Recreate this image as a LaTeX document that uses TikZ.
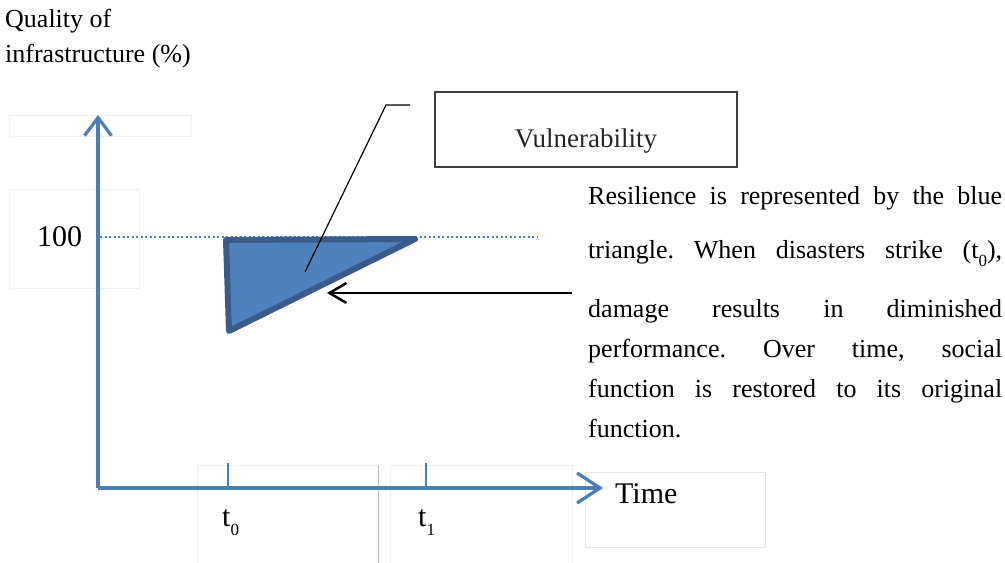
\documentclass[tikz,border=0pt]{standalone}
\usepackage{fontspec}
\setmainfont{Liberation Serif}
\usetikzlibrary{arrows.meta}
\frenchspacing

\definecolor{axisblue}{HTML}{4A7EBB}
\definecolor{trifill}{HTML}{4F81BD}
\definecolor{triedge}{HTML}{385D8A}
\definecolor{boxgray}{HTML}{404040}

\newcommand{\bodyfont}{\fontsize{26bp}{30bp}\selectfont}
\newcommand{\bigfont}{\fontsize{30bp}{34bp}\selectfont}
\newcommand{\subzero}[1]{\raisebox{-0.3em}{\fontsize{17bp}{17bp}\selectfont #1}}

\tikzset{
  axisline/.style={draw=axisblue, line width=3.2bp},
  tickline/.style={draw=axisblue, line width=2.8bp},
  guide/.style={draw=axisblue, line width=2bp, dash pattern=on 2bp off 2.5bp},
  ghost/.style={draw=black!6, line width=0.8bp},
  txt/.style={inner sep=0pt, anchor=base west, font=\bodyfont},
  bigtxt/.style={inner sep=0pt, anchor=base west, font=\bigfont},
  para/.style={inner sep=0pt, anchor=base west, font=\bodyfont},
}

\begin{document}
\begin{tikzpicture}[x=1bp, y=-1bp]
\useasboundingbox (0,0) rectangle (1005,563);

% faint frames left around the pasted pieces
\draw[ghost] (9,115) rectangle (191,136);
\draw[ghost] (9,189) rectangle (139,288);
\draw[ghost] (197,465) rectangle (378,563);
\draw[ghost] (390,465) rectangle (572,563);
\draw[ghost, draw=black!10] (585,472) rectangle (765,547);
\draw[draw=black!28, line width=0.8bp] (378,465) -- (378,563);

% axis title
\node[txt] (qual) at (5,28) {Quality of};
\node[txt] (infra) at (5,63) {infrastructure (\%)};

% axes
\coordinate (O) at (98,488);
\coordinate (ytip) at (98,115);
\coordinate (xtip) at (603,488);
\draw[axisline, -{Straight Barb[length=18bp, width=27bp]}] (O) -- (ytip);
\draw[axisline, -{Straight Barb[length=23bp, width=30bp]}] (O) -- (xtip);

% 100 % level
\node[bigtxt] (hundred) at (37,247) {100};
\coordinate (lvlL) at (100,237);
\coordinate (lvlR) at (538,237);
\draw[guide] (lvlL) -- (lvlR);

% ticks and time labels
\coordinate (t0top) at (228,463);
\coordinate (t0bot) at (228,488);
\coordinate (t1top) at (426,463);
\coordinate (t1bot) at (426,488);
\draw[tickline] (t0top) -- (t0bot);
\draw[tickline] (t1top) -- (t1bot);
\node[bigtxt] (t0) at (222,526) {t\subzero{0}};
\node[bigtxt] (t1) at (418,526) {t\subzero{1}};
\node[bigtxt] (time) at (615,503) {Time};

% resilience triangle
\coordinate (A) at (226,240);
\coordinate (B) at (415,239);
\coordinate (C) at (229,331);
\draw[fill=trifill, draw=triedge, line width=6bp, line join=round] (A) -- (B) -- (C) -- cycle;

% vulnerability callout
\node[draw=boxgray, line width=1.5bp, minimum width=302bp, minimum height=75bp, inner sep=0pt] (vul) at (586,129.5) {};
\node[inner sep=0pt, anchor=base, font=\fontsize{27bp}{30bp}\selectfont, text=black!85] (vultext) at (586,148) {Vulnerability};
\coordinate (lead) at (305,272);
\coordinate (knee) at (386,105);
\coordinate (leadend) at (410,105);
\draw[black, line width=1.2bp] (lead) -- (knee) -- (leadend);

% pointer to the triangle
\coordinate (ptrstart) at (572,293);
\coordinate (ptrtip) at (327,293);
\draw[black, line width=2.5bp, -{Straight Barb[length=17bp, width=20bp]}] (ptrstart) -- (ptrtip);

% explanation
\node[para] (p1) at (588,205) {\makebox[414bp][s]{Resilience is represented by the blue}};
\node[para] (p2) at (588,259) {\makebox[414bp][s]{triangle. When disasters strike (t\subzero{0}),}};
\node[para] (p3) at (588,317) {\makebox[414bp][s]{damage results in diminished}};
\node[para] (p4) at (588,357) {\makebox[414bp][s]{performance. Over time, social}};
\node[para] (p5) at (588,397) {\makebox[414bp][s]{function is restored to its original}};
\node[para] (p6) at (588,437) {function.};
\end{tikzpicture}
\end{document}
